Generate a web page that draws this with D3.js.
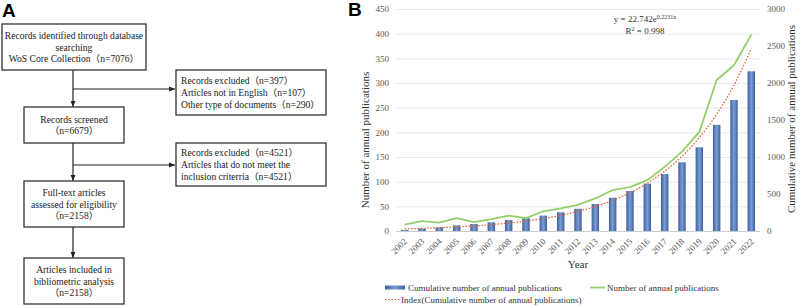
<!DOCTYPE html>
<html>
<head>
<meta charset="utf-8">
<script src="https://cdn.jsdelivr.net/npm/d3@7"></script>
<style>
  body { margin: 0; background: #fff; }
  svg { display: block; }
</style>
</head>
<body>
<div id="chart"></div>
<script>
// ---- data ----
const years = ["2002", "2003", "2004", "2005", "2006", "2007", "2008", "2009", "2010", "2011", "2012",
               "2013", "2014", "2015", "2016", "2017", "2018", "2019", "2020", "2021", "2022"];
const annual = [13, 20, 17, 26, 18, 24, 31, 26, 40, 46, 53, 66, 83, 89, 103, 130, 161, 201, 306, 336, 398];
const cumulative = [13, 33, 50, 76, 94, 118, 149, 172, 208, 253, 300, 365, 450, 540, 640, 770, 928, 1131, 1435, 1770, 2158];
const trend = [28, 36, 44, 56, 69, 87, 108, 136, 169, 212, 265, 331, 414, 517, 646, 808, 1010, 1262, 1577, 1972, 2465];
const leftTicks = [0, 50, 100, 150, 200, 250, 300, 350, 400, 450];
const rightTicks = [0, 500, 1000, 1500, 2000, 2500, 3000];

const flowMain = [
  ["Records identified through database", "searching", "WoS Core Collection（n=7076）"],
  ["Records screened", "（n=6679）"],
  ["Full-text articles", "assessed for eligibility", "（n=2158）"],
  ["Articles included in", "bibliometric analysis", "（n=2158）"]
];
const flowExcluded = [
  ["Records excluded（n=397）", "Articles not in English（n=107）", "Other type of documents（n=290）"],
  ["Records excluded（n=4521）", "Articles that do not meet the", "inclusion criterria（n=4521）"]
];

const serif = "'Liberation Serif', 'Times New Roman', 'Noto Sans CJK SC', serif";
const sans = "'Liberation Sans', Arial, sans-serif";

const svg = d3.select("#chart").append("svg")
  .attr("width", 800)
  .attr("height", 306);

// ---------- Panel A : flow chart ----------
const A = svg.append("g");
A.append("text").attr("x", 2).attr("y", 17)
  .style("font-family", sans).style("font-weight", "bold").style("font-size", "19px")
  .text("A");

const mainBoxes = [
  { x: 2, y: 24, w: 144, h: 46 },
  { x: 24, y: 107, w: 100, h: 36 },
  { x: 24, y: 181, w: 100, h: 46 },
  { x: 24, y: 258, w: 100, h: 46 }
];
const exBoxes = [
  { x: 176, y: 70, w: 150, h: 45, arrowY: 89 },
  { x: 176, y: 143, w: 150, h: 43, arrowY: 165 }
];
const cx = 73;

// arrow head
const defs = svg.append("defs");
defs.append("marker").attr("id", "arrow")
  .attr("viewBox", "0 0 10 10").attr("refX", 10).attr("refY", 5)
  .attr("markerWidth", 5).attr("markerHeight", 5).attr("orient", "auto")
  .append("path").attr("d", "M0,1 L10,5 L0,9 Z").attr("fill", "#222");

// connectors
for (let i = 0; i < mainBoxes.length - 1; i++) {
  const b = mainBoxes[i], n = mainBoxes[i + 1];
  A.append("line").attr("x1", cx).attr("x2", cx)
    .attr("y1", b.y + b.h).attr("y2", n.y)
    .attr("stroke", "#222").attr("stroke-width", 1.2)
    .attr("marker-end", "url(#arrow)");
}
exBoxes.forEach(e => {
  A.append("line").attr("x1", cx).attr("x2", e.x - 1)
    .attr("y1", e.arrowY).attr("y2", e.arrowY)
    .attr("stroke", "#222").attr("stroke-width", 1.2)
    .attr("marker-end", "url(#arrow)");
});

mainBoxes.forEach((b, i) => {
  A.append("rect").attr("x", b.x).attr("y", b.y).attr("width", b.w).attr("height", b.h)
    .attr("fill", "#fff").attr("stroke", "#333").attr("stroke-width", 1.3);
  const lines = flowMain[i];
  const lh = 11.6;
  const y0 = b.y + b.h / 2 - (lines.length - 1) * lh / 2 + 3.5;
  lines.forEach((t, j) => {
    A.append("text").attr("x", b.x + b.w / 2).attr("y", y0 + j * lh)
      .attr("text-anchor", "middle")
      .style("font-family", serif).style("font-size", "9.6px").style("fill", "#222")
      .text(t);
  });
});

exBoxes.forEach((b, i) => {
  A.append("rect").attr("x", b.x).attr("y", b.y).attr("width", b.w).attr("height", b.h)
    .attr("fill", "#fff").attr("stroke", "#333").attr("stroke-width", 1.3);
  const lines = flowExcluded[i];
  const lh = 11.8;
  const y0 = b.y + b.h / 2 - (lines.length - 1) * lh / 2 + 3.5;
  lines.forEach((t, j) => {
    A.append("text").attr("x", b.x + 5).attr("y", y0 + j * lh)
      .style("font-family", serif).style("font-size", "9.6px").style("fill", "#222")
      .text(t);
  });
});

// ---------- Panel B : bar + line chart ----------
const B = svg.append("g");
B.append("text").attr("x", 348).attr("y", 16)
  .style("font-family", sans).style("font-weight", "bold").style("font-size", "19px")
  .text("B");

const plot = { left: 396, right: 760, top: 9, bottom: 231 };

const x = d3.scaleBand().domain(years).range([plot.left, plot.right]).padding(0);
const yL = d3.scaleLinear().domain([0, 450]).range([plot.bottom, plot.top]);
const yR = d3.scaleLinear().domain([0, 3000]).range([plot.bottom, plot.top]);

// gridlines
B.append("g")
  .attr("transform", `translate(${plot.left},0)`)
  .call(d3.axisLeft(yL).tickValues(leftTicks).tickSize(-(plot.right - plot.left)).tickFormat(""))
  .call(g => g.select(".domain").remove())
  .call(g => g.selectAll("line").attr("stroke", d => d === 0 ? "#bfbfbf" : "#e3e3e3").attr("stroke-width", 0.8));

// left axis labels
B.append("g")
  .attr("transform", `translate(${plot.left},0)`)
  .call(d3.axisLeft(yL).tickValues(leftTicks).tickSize(0).tickPadding(7))
  .call(g => g.select(".domain").remove())
  .call(g => g.selectAll("text").style("font-family", serif).style("font-size", "9px").style("fill", "#595959"));

// right axis labels
B.append("g")
  .attr("transform", `translate(${plot.right},0)`)
  .call(d3.axisRight(yR).tickValues(rightTicks).tickFormat(d3.format("d")).tickSize(0).tickPadding(7))
  .call(g => g.select(".domain").remove())
  .call(g => g.selectAll("text").style("font-family", serif).style("font-size", "9px").style("fill", "#595959"));

// bar gradient
const grad = defs.append("linearGradient").attr("id", "barGrad")
  .attr("x1", "0%").attr("x2", "100%").attr("y1", "0%").attr("y2", "0%");
grad.append("stop").attr("offset", "0%").attr("stop-color", "#3d5f9c");
grad.append("stop").attr("offset", "50%").attr("stop-color", "#7b9cd3");
grad.append("stop").attr("offset", "100%").attr("stop-color", "#3d5f9c");

const barW = x.bandwidth() * 0.43;
B.selectAll(".bar")
  .data(years)
  .enter()
  .append("rect")
  .attr("class", "bar")
  .attr("x", (d) => x(d) + x.bandwidth() / 2 - barW / 2)
  .attr("y", (d, i) => yR(cumulative[i]))
  .attr("width", barW)
  .attr("height", (d, i) => plot.bottom - yR(cumulative[i]))
  .attr("fill", "url(#barGrad)");

// trend line (dotted)
const trendLine = d3.line()
  .x((d, i) => x(years[i]) + x.bandwidth() / 2)
  .y(d => yR(d))
  .curve(d3.curveMonotoneX);
B.append("path").datum(trend)
  .attr("d", trendLine)
  .attr("fill", "none")
  .attr("stroke", "#e0612b")
  .attr("stroke-width", 1.2)
  .attr("stroke-dasharray", "1.6,1.6");

// annual line
const annualLine = d3.line()
  .x((d, i) => x(years[i]) + x.bandwidth() / 2)
  .y(d => yL(d));
B.append("path").datum(annual)
  .attr("d", annualLine)
  .attr("fill", "none")
  .attr("stroke", "#93cf6b")
  .attr("stroke-width", 1.8)
  .attr("stroke-linejoin", "round");

// year labels
B.append("g").selectAll("text")
  .data(years)
  .enter()
  .append("text")
  .attr("transform", d => `translate(${x(d) + x.bandwidth() / 2 + 3},242) rotate(-45)`)
  .attr("text-anchor", "end")
  .style("font-family", serif).style("font-size", "9px").style("fill", "#595959")
  .text(d => d);

// axis titles
B.append("text")
  .attr("transform", "translate(369,140) rotate(-90)")
  .attr("text-anchor", "middle")
  .style("font-family", serif).style("font-size", "11px").style("fill", "#333")
  .text("Number of annual publications");
B.append("text")
  .attr("transform", "translate(795,119) rotate(-90)")
  .attr("text-anchor", "middle")
  .style("font-family", serif).style("font-size", "11px").style("fill", "#333")
  .text("Cumulative number of annual publications");
B.append("text")
  .attr("x", 578).attr("y", 268)
  .attr("text-anchor", "middle")
  .style("font-family", serif).style("font-size", "11px").style("fill", "#333")
  .text("Year");

// equation
const eq = B.append("text").attr("x", 645).attr("y", 22).attr("text-anchor", "middle")
  .style("font-family", serif).style("font-size", "9px").style("fill", "#333");
eq.append("tspan").text("y = 22.742e");
eq.append("tspan").attr("dy", -3).style("font-size", "6px").text("0.2231x");
const r2 = B.append("text").attr("x", 645).attr("y", 34).attr("text-anchor", "middle")
  .style("font-family", serif).style("font-size", "9px").style("fill", "#333");
r2.append("tspan").text("R");
r2.append("tspan").attr("dy", -3).style("font-size", "6px").text("2");
r2.append("tspan").attr("dy", 3).text(" = 0.998");

// legend
const legend = B.append("g").style("font-family", serif).style("font-size", "9px").style("fill", "#333");
legend.append("rect").attr("x", 385).attr("y", 285.5).attr("width", 20).attr("height", 4).attr("fill", "url(#barGrad)");
legend.append("text").attr("x", 408).attr("y", 291).text("Cumulative number of annual publications");
legend.append("line").attr("x1", 590).attr("x2", 605).attr("y1", 287.5).attr("y2", 287.5)
  .attr("stroke", "#93cf6b").attr("stroke-width", 1.8);
legend.append("text").attr("x", 607).attr("y", 291).text("Number of annual publications");
legend.append("line").attr("x1", 385).attr("x2", 400).attr("y1", 299.5).attr("y2", 299.5)
  .attr("stroke", "#e0612b").attr("stroke-width", 1.2).attr("stroke-dasharray", "1.6,1.6");
legend.append("text").attr("x", 401).attr("y", 303).text("Index(Cumulative number of annual publications)");
</script>
</body>
</html>
